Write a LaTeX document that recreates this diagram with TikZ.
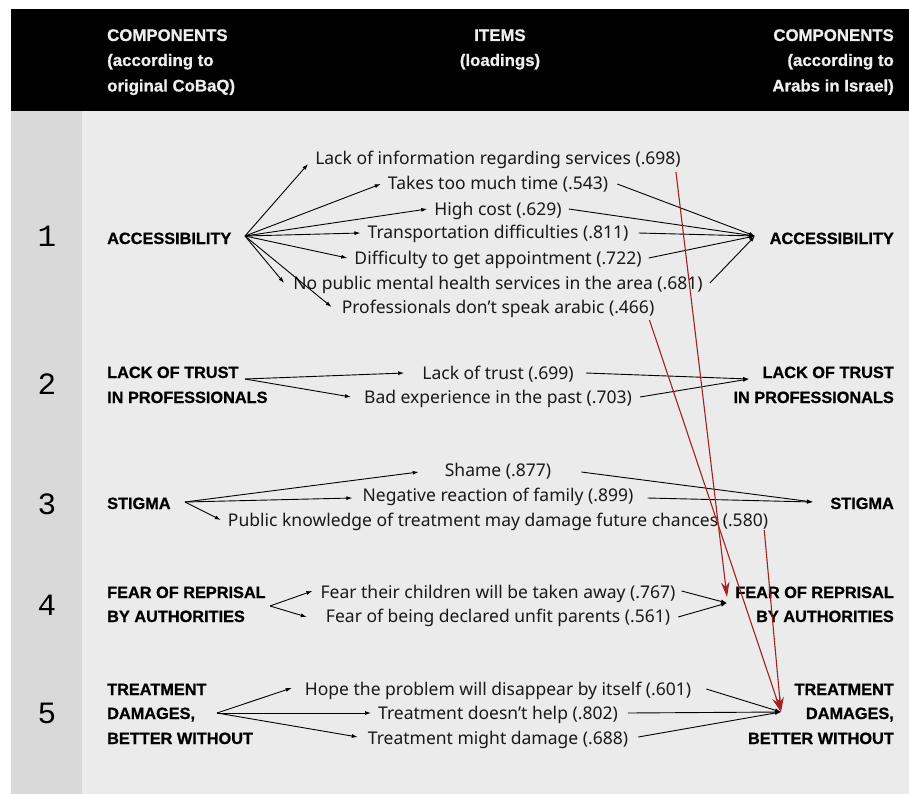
\documentclass[tikz,border=0pt]{standalone}
\usepackage{fontspec}
\setmainfont{Noto Sans}
\newfontfamily\labfont{Liberation Sans}[BoldFeatures={FakeBold=0.9}]
\newfontfamily\numfont{Liberation Mono}
\usetikzlibrary{arrows.meta}
\definecolor{panelgray}{RGB}{235,235,235}
\definecolor{colgray}{RGB}{217,217,217}
\definecolor{darkred}{RGB}{165,32,32}
\definecolor{hdrtext}{RGB}{238,238,238}
\definecolor{itemtext}{RGB}{25,25,25}
\begin{document}
\begin{tikzpicture}[x=1pt,y=-1pt,
 item/.style={font=\fontsize{17.5}{20}\selectfont, text=itemtext, text height=12pt, text depth=0pt, inner xsep=7pt, inner ysep=0pt, anchor=center},
 lab/.style={font=\labfont\bfseries\fontsize{16.3}{24}\selectfont, inner sep=0pt},
 hdr/.style={font=\labfont\bfseries\fontsize{16.8}{25}\selectfont, text=hdrtext, inner sep=0pt},
 num/.style={font=\numfont\fontsize{31}{31}\selectfont, inner sep=0pt, anchor=base},
 arr/.style={-{Latex[length=6pt,width=4pt]}, line width=0.9pt},
 redarr/.style={-{Stealth[length=15pt,width=8.5pt]}, draw=darkred, line width=1.1pt}]

\useasboundingbox (0,0) rectangle (909,794);
\fill[white] (0,0) rectangle (909,794);
\fill[black] (11,9) rectangle (909,111);
\fill[colgray] (11,111) rectangle (82,794);
\fill[panelgray] (82,111) rectangle (909,794);

% header
\node[hdr, anchor=base west] (hl1) at (107,41) {COMPONENTS};
\node[hdr, anchor=base west] (hl2) at (107,66) {(according to};
\node[hdr, anchor=base west] (hl3) at (107,91.5) {original CoBaQ)};
\node[hdr, anchor=base] (hm1) at (500,41) {ITEMS};
\node[hdr, anchor=base] (hm2) at (500,66) {(loadings)};
\node[hdr, anchor=base east] (hr1) at (894,41) {COMPONENTS};
\node[hdr, anchor=base east] (hr2) at (894,66) {(according to};
\node[hdr, anchor=base east] (hr3) at (894,91.5) {Arabs in Israel)};

% row numbers
\node[num] (n1) at (47,246.5) {1};
\node[num] (n2) at (47,394.5) {2};
\node[num] (n3) at (47,514.5) {3};
\node[num] (n4) at (47,615.5) {4};
\node[num] (n5) at (47,723.5) {5};

% ---------- row 1
\node[lab, anchor=base west] (L1) at (107,244) {ACCESSIBILITY};
\node[lab, anchor=base east] (R1) at (894,244) {ACCESSIBILITY};
\coordinate (s1) at (245,236);
\coordinate (h1) at (755,236);
\node[item] (i1) at (498,159) {Lack of information regarding services (.698)};
\node[item] (i2) at (498,184) {Takes too much time (.543)};
\node[item] (i3) at (498,209) {High cost (.629)};
\node[item] (i4) at (498,233) {Transportation difficulties (.811)};
\node[item] (i5) at (498,258) {Difficulty to get appointment (.722)};
\node[item] (i6) at (498,283) {No public mental health services in the area (.681)};
\node[item] (i7) at (498,307) {Professionals don't speak arabic (.466)};
\draw[arr] (s1) -- ([yshift=-5pt]i1.west);
\draw[arr] (s1) -- (i2.west);
\draw[arr] (s1) -- (i3.west);
\draw[arr] (s1) -- (i4.west);
\draw[arr] (s1) -- (i5.west);
\draw[arr] (s1) -- ([xshift=-2pt]i6.west);
\draw[arr] (s1) -- ([xshift=-3pt]i7.west);
\draw[arr] ([xshift=2pt]i2.east) -- (h1);
\draw[arr] (i3.east) -- (h1);
\draw[arr] ([xshift=3pt]i4.east) -- (h1);
\draw[arr] (i5.east) -- (h1);
\draw[arr] (i6.east) -- (h1);

% ---------- row 2
\node[lab, anchor=base west] (L2a) at (107,378) {LACK OF TRUST};
\node[lab, anchor=base west] (L2b) at (107,403) {IN PROFESSIONALS};
\node[lab, anchor=base east] (R2a) at (894,378) {LACK OF TRUST};
\node[lab, anchor=base east] (R2b) at (894,403) {IN PROFESSIONALS};
\coordinate (s2) at (245,379);
\coordinate (h2) at (749,379);
\node[item] (t1) at (498,373) {Lack of trust (.699)};
\node[item] (t2) at (498,397) {Bad experience in the past (.703)};
\draw[arr] (s2) -- ([xshift=-11pt]t1.west);
\draw[arr] (s2) -- ([xshift=-6pt]t2.west);
\draw[arr] ([xshift=5pt]t1.east) -- (h2);
\draw[arr] ([xshift=1pt]t2.east) -- (h2);

% ---------- row 3
\node[lab, anchor=base west] (L3) at (107,509) {STIGMA};
\node[lab, anchor=base east] (R3) at (894,509) {STIGMA};
\coordinate (s3) at (185,502);
\coordinate (h3) at (813,502);
\node[item] (p1) at (498,470) {Shame (.877)};
\node[item] (p2) at (498,495) {Negative reaction of family (.899)};
\node[item] (p3) at (498,520) {Public knowledge of treatment may damage future chances (.580)};
\draw[arr] (s3) -- ([xshift=-19pt,yshift=-2pt]p1.west);
\draw[arr] (s3) -- ([xshift=-3pt,yshift=-3pt]p2.west);
\draw[arr] (s3) -- (p3.west);
\draw[arr] ([xshift=23pt,yshift=-2pt]p1.east) -- (h3);
\draw[arr] ([xshift=7pt,yshift=-3pt]p2.east) -- (h3);

% ---------- row 4
\node[lab, anchor=base west] (L4a) at (107,598) {FEAR OF REPRISAL};
\node[lab, anchor=base west] (L4b) at (107,622) {BY AUTHORITIES};
\node[lab, anchor=base east] (R4a) at (894,598) {FEAR OF REPRISAL};
\node[lab, anchor=base east] (R4b) at (894,622) {BY AUTHORITIES};
\coordinate (s4) at (270,606);
\coordinate (h4) at (727,603);
\node[item] (f1) at (498,592) {Fear their children will be taken away (.767)};
\node[item] (f2) at (498,616) {Fear of being declared unfit parents (.561)};
\draw[arr] (s4) -- ([xshift=-1pt,yshift=1pt]f1.west);
\draw[arr] (s4) -- ([xshift=-12pt,yshift=-1pt]f2.west);
\draw[arr] ([xshift=-1pt,yshift=1pt]f1.east) -- (h4);
\draw[arr] ([xshift=1pt,yshift=-1pt]f2.east) -- (h4);

% ---------- row 5
\node[lab, anchor=base west] (L5a) at (107,695) {TREATMENT};
\node[lab, anchor=base west] (L5b) at (107,719) {DAMAGES,};
\node[lab, anchor=base west] (L5c) at (107,744) {BETTER WITHOUT};
\node[lab, anchor=base east] (R5a) at (894,695) {TREATMENT};
\node[lab, anchor=base east] (R5b) at (894,719) {DAMAGES,};
\node[lab, anchor=base east] (R5c) at (894,744) {BETTER WITHOUT};
\coordinate (s5) at (217,713);
\coordinate (h5) at (781,712);
\node[item] (g1) at (498,689) {Hope the problem will disappear by itself (.601)};
\node[item] (g2) at (498,713) {Treatment doesn't help (.802)};
\node[item] (g3) at (498,738) {Treatment might damage (.688)};
\draw[arr] (s5) -- ([xshift=-6pt,yshift=1pt]g1.west);
\draw[arr] (s5) -- (g2.west);
\draw[arr] (s5) -- ([xshift=-3pt,yshift=1pt]g3.west);
\draw[arr] ([xshift=8pt]g1.east) -- (h5);
\draw[arr] ([xshift=3pt]g2.east) -- (h5);
\draw[arr] ([xshift=3pt,yshift=1pt]g3.east) -- (h5);

% ---------- red cross-loadings
\draw[redarr] ([xshift=-12pt,yshift=-13pt]i1.east) -- ([yshift=6pt]h4);
\draw[redarr] ([xshift=-12pt,yshift=-13pt]i7.east) -- (h5);
\draw[redarr] ([xshift=-11pt,yshift=-10pt]p3.east) -- (h5);
\end{tikzpicture}
\end{document}
